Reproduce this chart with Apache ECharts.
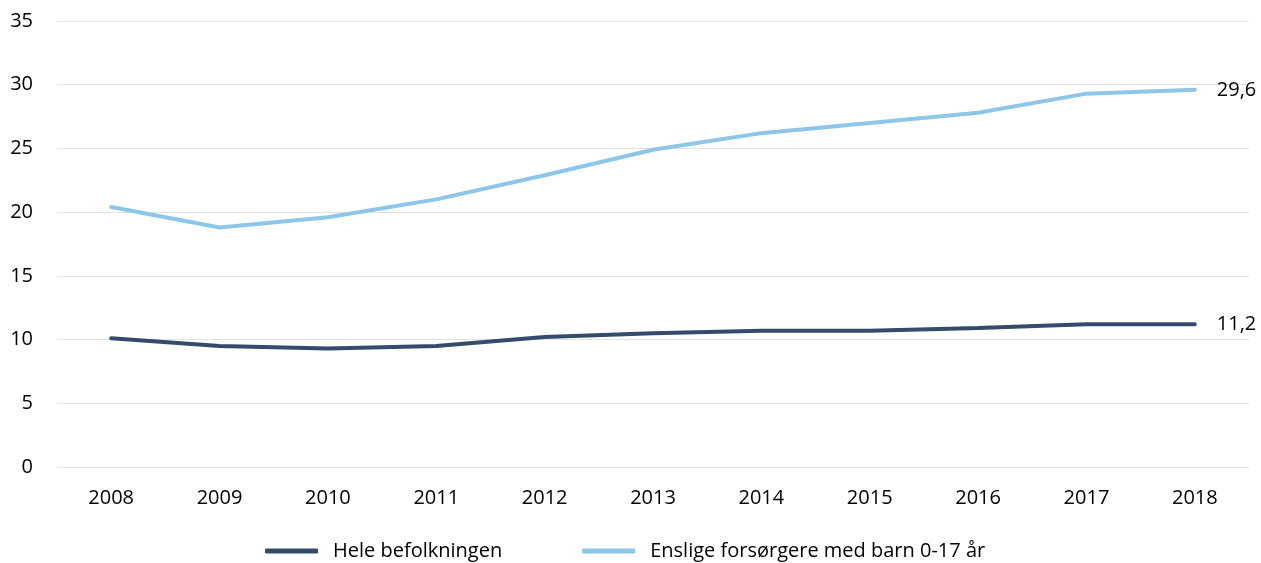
<!DOCTYPE html>
<html>
<head>
<meta charset="utf-8">
<script src="https://cdn.jsdelivr.net/npm/echarts@6/dist/echarts.min.js"></script>
<style>html,body{margin:0;padding:0;background:#fff}#c{width:1261px;height:563px}</style>
</head>
<body>
<div id="c"></div>
<script>
const years = ['2008','2009','2010','2011','2012','2013','2014','2015','2016','2017','2018'];
const seriesNames = ['Hele befolkningen', 'Enslige forsørgere med barn 0-17 år'];
const heleBefolkningen = [10.1, 9.5, 9.3, 9.5, 10.2, 10.5, 10.7, 10.7, 10.9, 11.2, 11.2];
const enslige = [20.4, 18.8, 19.6, 21.0, 22.9, 24.9, 26.2, 27.0, 27.8, 29.3, 29.6];
const yTicks = { min: 0, max: 35, interval: 5 };

const font = '"Open Sans", sans-serif';
const chart = echarts.init(document.getElementById('c'));
const mk = (name, data, color) => ({
  name, type: 'line', data, symbol: 'none', smooth: false,
  lineStyle: { width: 4, color, cap: 'round' }, itemStyle: { color },
  endLabel: { show: true, formatter: p => String(p.value).replace('.', ','), color: '#000', fontSize: 20, fontFamily: font, distance: 22 }
});
chart.setOption({
  animation: false,
  grid: { left: 57, right: 12, top: 21, bottom: 96 },
  legend: {
    bottom: -3, left: 260, itemWidth: 53, itemHeight: 5, itemGap: 80,
    icon: 'roundRect',
    textStyle: { fontSize: 20, fontFamily: font, color: '#000', padding: [0, 0, 0, 10] },
    data: seriesNames
  },
  xAxis: {
    type: 'category', data: years, boundaryGap: true,
    axisLine: { show: false }, axisTick: { show: false },
    axisLabel: { fontSize: 20, fontFamily: font, color: '#000', margin: 21 }
  },
  yAxis: {
    type: 'value', min: yTicks.min, max: yTicks.max, interval: yTicks.interval,
    axisLine: { show: false }, axisTick: { show: false },
    axisLabel: { fontSize: 20, fontFamily: font, color: '#000', margin: 24 },
    splitLine: { lineStyle: { color: '#e3e3e3', width: 1 } }
  },
  series: [mk(seriesNames[0], heleBefolkningen, '#354b6c'), mk(seriesNames[1], enslige, '#8dc6e8')]
});
</script>
</body>
</html>
